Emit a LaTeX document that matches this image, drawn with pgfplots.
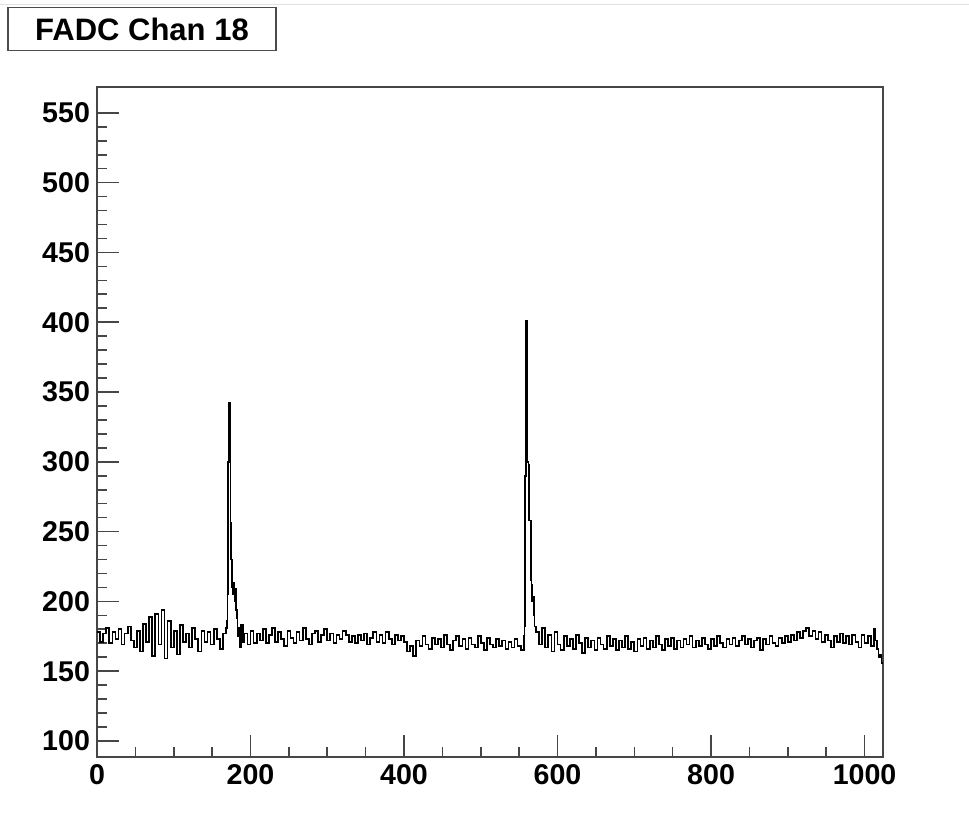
\documentclass[border=0pt]{standalone}
\usepackage{pgfplots}
\pgfplotsset{compat=1.18}
\usepackage{fontspec}
\setmainfont{Liberation Sans}

% FADC trace, bin content (every 4 bins, finer on the peaks)
\pgfplotstableread{
x y
0 178
4 171
8 177
12 181
16 170
20 178
24 173
28 180
32 169
36 177
40 182
44 172
48 167
52 179
56 164
60 184
64 171
68 189
72 161
76 191
80 169
84 194
88 159
92 186
96 167
100 179
104 162
108 183
112 171
116 177
120 167
124 181
128 173
132 164
136 179
140 171
144 178
148 169
152 180
156 173
160 166
164 177
168 181
169 186
170 205
171 300
172 342
173 300
174 256
175 230
176 210
177 205
178 213
179 200
180 209
181 194
182 188
183 175
184 181
186 167
188 183
190 171
192 177
196 169
200 179
204 170
208 177
212 172
216 180
220 170
224 176
228 181
232 171
236 178
240 173
244 168
248 179
252 174
256 170
260 178
264 172
268 181
272 173
276 169
280 177
284 179
288 171
292 176
296 180
300 172
304 177
308 170
312 176
316 173
320 179
324 176
328 171
332 175
336 170
340 176
344 172
348 177
352 169
356 174
360 178
364 171
368 176
372 170
376 178
380 173
384 169
388 176
392 172
396 175
400 171
404 164
408 168
412 161
416 172
420 168
424 175
428 169
432 166
436 174
440 169
444 173
448 167
452 176
456 169
460 165
464 172
468 175
472 168
476 173
480 166
484 174
488 169
492 167
496 175
500 170
504 165
508 174
512 169
516 167
520 173
524 168
528 172
532 166
536 171
540 167
544 173
548 168
552 165
556 175
557 182
558 290
559 401
560 401
561 300
562 298
563 258
564 258
565 215
566 212
567 200
568 203
569 190
570 182
572 178
576 169
580 181
584 167
588 176
592 164
596 178
600 169
604 165
608 175
612 168
616 173
620 166
624 176
628 170
632 163
636 174
640 167
644 172
648 165
652 174
656 169
660 166
664 175
668 168
672 173
676 165
680 172
684 167
688 175
692 166
696 171
700 164
704 173
708 168
712 174
716 166
720 172
724 167
728 175
732 169
736 165
740 173
744 168
748 174
752 166
756 172
760 167
764 173
768 169
772 175
776 167
780 172
784 168
788 174
792 169
796 166
800 173
804 168
808 175
812 170
816 167
820 173
824 169
828 174
832 168
836 172
840 175
844 169
848 173
852 167
856 172
860 174
864 165
868 173
872 169
876 175
880 170
884 168
888 174
892 170
896 175
900 171
904 176
908 172
912 178
916 174
920 179
924 181
928 175
932 179
936 173
940 178
944 171
948 176
952 172
956 167
960 175
964 171
968 177
972 170
976 175
980 169
984 176
988 171
992 167
996 176
1000 170
1004 175
1008 168
1012 180
1014 172
1016 166
1018 160
1020 162
1022 156
1024 156
}\fadc

\begin{document}
\begin{tikzpicture}
% page frame: 969 x 832 px at 0.5pt per px
\path[use as bounding box] (0,0) rectangle (484.5pt,416pt);
\draw[gray!25, line width=0.5pt] (0,413.5pt) -- (484.5pt,413.5pt);

\begin{axis}[
  at={(48.5pt,37.5pt)}, anchor=south west,
  scale only axis,
  width=393pt, height=335pt,
  xmin=0, xmax=1024, ymin=88.5, ymax=568.5,
  xtick={0,200,...,1000}, minor x tick num=3,
  ytick={100,150,...,550}, minor y tick num=4,
  tick pos=left, tick align=inside,
  major tick length=11pt, minor tick length=5pt,
  axis line style={gray!55!black, line width=0.8pt},
  every tick/.style={gray!55!black, line width=0.8pt},
  tick label style={font=\bfseries\fontsize{14.3}{16}\selectfont},
  /pgf/number format/assume math mode=true,
  /pgf/number format/1000 sep={},
  xticklabel style={yshift=0pt},
  yticklabel style={xshift=0pt},
]
\addplot[black, line width=0.85pt, const plot, mark=none] table[x=x, y=y] {\fadc};
\end{axis}

\node[draw=gray!60!black, line width=0.9pt, fill=white,
      minimum width=134pt, minimum height=21.5pt, inner sep=0pt,
      font=\bfseries\fontsize{15.5}{17}\selectfont]
  at (71pt,401.5pt) {FADC Chan 18};
\end{tikzpicture}
\end{document}
